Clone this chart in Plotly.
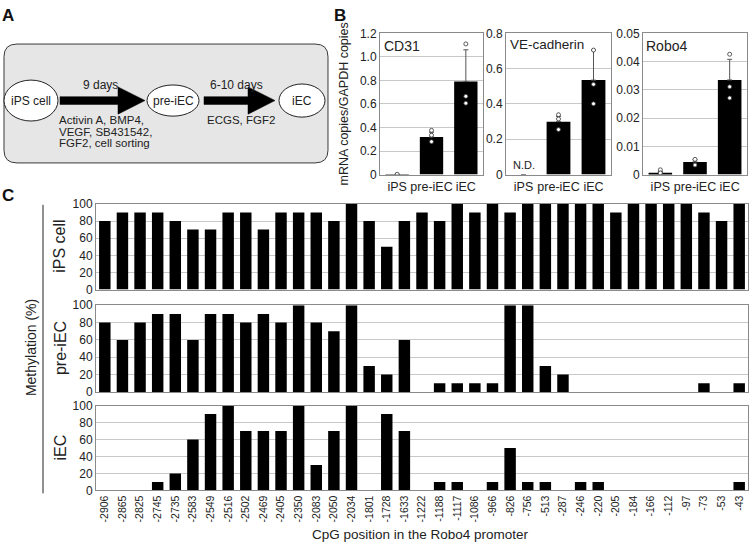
import plotly.graph_objects as go

W, H = 750, 550
FONT = "Liberation Sans, Arial, sans-serif"

# ---------------- data ----------------
groups = ["iPS", "pre-iEC", "iEC"]

cd31_mean = [0.002, 0.32, 0.79]
cd31_err = [0.0, 0.04, 0.27]
cd31_pts_x = ["iPS", "pre-iEC", "pre-iEC", "pre-iEC", "iEC", "iEC", "iEC"]
cd31_pts_y = [0.003, 0.376, 0.335, 0.28, 1.11, 0.665, 0.607]

ve_mean = [0.0, 0.30, 0.535]
ve_err = [0.0, 0.03, 0.17]
ve_pts_x = ["pre-iEC", "pre-iEC", "pre-iEC", "iEC", "iEC", "iEC"]
ve_pts_y = [0.339, 0.315, 0.255, 0.705, 0.511, 0.401]

robo4_mean = [0.0007, 0.0045, 0.0335]
robo4_err = [0.0004, 0.0008, 0.0073]
robo4_pts_x = ["iPS", "iPS", "pre-iEC", "pre-iEC", "iEC", "iEC", "iEC"]
robo4_pts_y = [0.0017, 0.0006, 0.0054, 0.0034, 0.0426, 0.0311, 0.0271]

cpg_positions = ["-2906", "-2865", "-2825", "-2745", "-2735", "-2583", "-2549", "-2516",
                 "-2502", "-2469", "-2405", "-2350", "-2083", "-2050", "-2034", "-1801",
                 "-1728", "-1633", "-1222", "-1188", "-1117", "-1086", "-966", "-826",
                 "-756", "-513", "-287", "-246", "-220", "-205", "-184", "-166", "-112",
                 "-97", "-73", "-53", "-43"]

meth_ips = [80, 90, 90, 90, 80, 70, 70, 90, 90, 70, 90, 90, 90, 80, 100, 80,
            50, 80, 90, 80, 100, 90, 100, 90, 100, 100, 100, 100, 100, 90, 100, 100, 100,
            100, 90, 80, 100]
meth_pre = [80, 60, 80, 90, 90, 60, 90, 90, 80, 90, 80, 100, 80, 70, 100, 30,
            20, 60, 0, 10, 10, 10, 10, 100, 100, 30, 20, 0, 0, 0, 0, 0, 0,
            0, 10, 0, 10]
meth_iec = [0, 0, 0, 10, 20, 60, 90, 100, 70, 70, 70, 100, 30, 70, 100, 0,
            90, 70, 0, 10, 10, 0, 10, 50, 10, 10, 0, 10, 10, 0, 0, 0, 0,
            0, 0, 0, 10]

cd31_ticks = [0, 0.2, 0.4, 0.6, 0.8, 1.0, 1.2]
cd31_ticktext = ["0", "0.2", "0.4", "0.6", "0.8", "1.0", "1.2"]
ve_ticks = [0, 0.2, 0.4, 0.6, 0.8]
ve_ticktext = ["0", "0.2", "0.4", "0.6", "0.8"]
robo4_ticks = [0, 0.01, 0.02, 0.03, 0.04, 0.05]
robo4_ticktext = ["0", "0.01", "0.02", "0.03", "0.04", "0.05"]
meth_ticks = [0, 20, 40, 60, 80, 100]


def fx(x):
    return x / W


def fy(y):
    return 1 - y / H


fig = go.Figure()

# ---------------- panel B ----------------
b_sets = [
    (cd31_mean, cd31_err, cd31_pts_x, cd31_pts_y, "x", "y"),
    (ve_mean, ve_err, ve_pts_x, ve_pts_y, "x2", "y2"),
    (robo4_mean, robo4_err, robo4_pts_x, robo4_pts_y, "x3", "y3"),
]
for mean, err, px_, py_, xa, ya in b_sets:
    fig.add_trace(go.Bar(
        x=groups, y=mean, xaxis=xa, yaxis=ya, width=0.68,
        marker=dict(color="black", line=dict(width=0)),
        error_y=dict(type="data", symmetric=False, array=err,
                     arrayminus=[0] * len(err), color="#555555",
                     thickness=1, width=2.5),
        showlegend=False, hoverinfo="skip"))
    fig.add_trace(go.Scatter(
        x=px_, y=py_, xaxis=xa, yaxis=ya, mode="markers",
        marker=dict(size=4, color="white", line=dict(color="#333333", width=0.8)),
        showlegend=False, hoverinfo="skip"))

# ---------------- panel C ----------------
for vals, xa, ya in [(meth_ips, "x4", "y4"), (meth_pre, "x5", "y5"), (meth_iec, "x6", "y6")]:
    fig.add_trace(go.Bar(
        x=cpg_positions, y=vals, xaxis=xa, yaxis=ya, width=0.65,
        marker=dict(color="black", line=dict(width=0)),
        showlegend=False, hoverinfo="skip"))

grid = "#c8c8c8"
boxc = "#8a8a8a"
tickfont = dict(family=FONT, size=12, color="#222222")

def xaxis_b(x0, x1, anchor):
    return dict(domain=[fx(x0), fx(x1)], anchor=anchor, type="category",
                range=[-0.5, 2.5], showline=True, mirror=True, linecolor=boxc,
                linewidth=1, ticks="", showgrid=False, tickangle=0,
                tickfont=dict(family=FONT, size=12.5, color="#222222"))

def yaxis_b(anchor, ticks, text, rng):
    return dict(domain=[fy(172), fy(27)], anchor=anchor, range=rng,
                tickvals=ticks, ticktext=text, showline=True, mirror=True,
                linecolor=boxc, linewidth=1, gridcolor=grid, gridwidth=1,
                ticks="", tickfont=tickfont, zeroline=False)

cx0, cx1 = 96, 748

def xaxis_c(anchor, labels):
    return dict(domain=[fx(cx0), fx(cx1)], anchor=anchor, type="category",
                range=[-0.5, len(cpg_positions) - 0.5], showline=True, mirror=True,
                linecolor=boxc, linewidth=1, ticks="", showgrid=False,
                showticklabels=labels, tickangle=-90,
                tickfont=dict(family=FONT, size=10.5, color="#222222"))

def yaxis_c(anchor, top, bottom):
    return dict(domain=[fy(bottom), fy(top)], anchor=anchor, range=[0, 100],
                tickvals=meth_ticks, showline=True, mirror=True, linecolor=boxc,
                linewidth=1, gridcolor=grid, gridwidth=1, ticks="",
                tickfont=tickfont, zeroline=False)

fig.update_layout(
    width=W, height=H, autosize=False,
    margin=dict(l=0, r=0, t=0, b=0),
    paper_bgcolor="white", plot_bgcolor="white",
    font=dict(family=FONT, color="#222222"),
    bargap=0.3,
    xaxis=xaxis_b(380, 483, "y"),
    yaxis=yaxis_b("x", cd31_ticks, cd31_ticktext, [0, 1.2]),
    xaxis2=xaxis_b(506, 611, "y2"),
    yaxis2=yaxis_b("x2", ve_ticks, ve_ticktext, [0, 0.8]),
    xaxis3=xaxis_b(643, 747, "y3"),
    yaxis3=yaxis_b("x3", robo4_ticks, robo4_ticktext, [0, 0.05]),
    xaxis4=xaxis_c("y4", False),
    yaxis4=yaxis_c("x4", 202, 290),
    xaxis5=xaxis_c("y5", False),
    yaxis5=yaxis_c("x5", 306, 395),
    xaxis6=xaxis_c("y6", True),
    yaxis6=yaxis_c("x6", 409, 496),
)

ann = []

def text(x, y, s, size=12, bold=False, angle=0, xanchor="center"):
    ann.append(dict(x=fx(x), y=fy(y), xref="paper", yref="paper", text=s,
                    showarrow=False, textangle=angle, xanchor=xanchor, yanchor="middle",
                    borderpad=0,
                    font=dict(family=FONT, size=size, color="#111111" if bold else "#222222")))

# Panel letters
text(8, 9, "<b>A</b>", size=17, bold=True)
text(340, 9, "<b>B</b>", size=17, bold=True)
text(8, 193, "<b>C</b>", size=17, bold=True)

# Panel B labels
text(344, 100, "mRNA copies/GAPDH copies", size=12.5, angle=-90)
text(383, 40, "CD31", size=14, xanchor="left")
text(509, 38, "VE-cadherin", size=13.5, xanchor="left")
text(645, 40, "Robo4", size=14, xanchor="left")
ann.append(dict(x="iPS", y=0, xref="x2", yref="y2", text="N.D.", showarrow=False,
                yanchor="bottom", yshift=2, font=dict(family=FONT, size=11, color="#222222")))

# Panel C labels
text(60, 246, "iPS cell", size=16, angle=-90)
text(60, 350, "pre-iEC", size=16, angle=-90)
text(60, 452, "iEC", size=16, angle=-90)
text(31, 350, "Methylation (%)", size=14, angle=-90)
text(420, 541, "CpG position in the Robo4 promoter", size=13.5)

# Panel A text
text(31, 96, "iPS cell", size=12)
text(173, 96, "pre-iEC", size=12)
text(302, 96, "iEC", size=12)
text(100, 80, "9 days", size=12)
text(236, 80, "6-10 days", size=12)
text(58, 116, "Activin A, BMP4,", size=11.5, xanchor="left")
text(58, 128, "VEGF, SB431542,", size=11.5, xanchor="left")
text(58, 140, "FGF2, cell sorting", size=11.5, xanchor="left")
text(241, 116, "ECGS, FGF2", size=11.5)

fig.update_layout(annotations=ann)

shapes = []

def P(x, y):
    return f"{fx(x):.5f},{fy(y):.5f}"

# rounded rectangle
L, T, R, B, r = 4, 38, 328, 160, 13
path = (f"M {P(L + r, T)} L {P(R - r, T)} Q {P(R, T)} {P(R, T + r)} "
        f"L {P(R, B - r)} Q {P(R, B)} {P(R - r, B)} L {P(L + r, B)} "
        f"Q {P(L, B)} {P(L, B - r)} L {P(L, T + r)} Q {P(L, T)} {P(L + r, T)} Z")
shapes.append(dict(type="path", path=path, xref="paper", yref="paper",
                   fillcolor="#e6e6e6", line=dict(color="#3a3a3a", width=1), layer="below"))

def arrow(x0, xb, xt, yc=96, sh=4, hh=14):
    p = (f"M {P(x0, yc - sh)} L {P(xb, yc - sh)} L {P(xb, yc - hh)} L {P(xt, yc)} "
         f"L {P(xb, yc + hh)} L {P(xb, yc + sh)} L {P(x0, yc + sh)} Z")
    return dict(type="path", path=p, xref="paper", yref="paper",
                fillcolor="black", line=dict(color="black", width=0.5))

shapes.append(arrow(60, 118, 145))
shapes.append(arrow(204, 248, 275))

for cx, cy, rx, ry in [(31, 96, 27, 21), (173, 96, 26, 16), (302, 96, 23, 17)]:
    shapes.append(dict(type="circle", xref="paper", yref="paper",
                       x0=fx(cx - rx), x1=fx(cx + rx), y0=fy(cy + ry), y1=fy(cy - ry),
                       fillcolor="white", line=dict(color="#222222", width=1)))

# bracket line for Methylation
shapes.append(dict(type="line", xref="paper", yref="paper",
                   x0=fx(43), x1=fx(43), y0=fy(203), y1=fy(499),
                   line=dict(color="#222222", width=1)))

fig.update_layout(shapes=shapes)

fig.write_html("out.html", config={"displayModeBar": False},
               post_script="document.body.style.margin='0px';document.body.style.overflow='hidden';")
